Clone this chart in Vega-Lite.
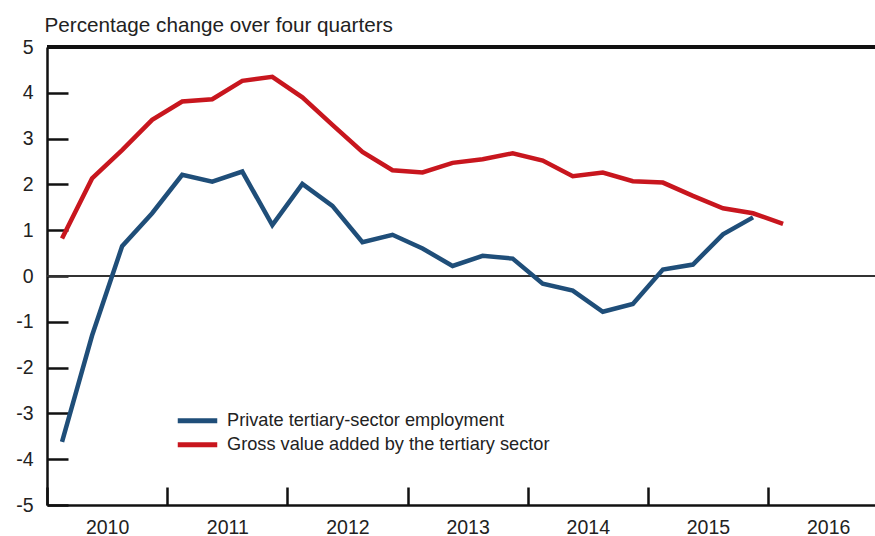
{
  "$schema": "https://vega.github.io/schema/vega-lite/v6.json",
  "autosize": {"type": "none"},
  "padding": {"left": 47, "top": 47, "right": 0, "bottom": 31},
  "width": 828,
  "height": 458,
  "background": "white",
  "config": {
    "view": {"stroke": null},
    "font": "Liberation Sans"
  },
  "data": {
    "values": [
      {"t": 2010.125, "series": "Private tertiary-sector employment", "value": -3.62},
      {"t": 2010.375, "series": "Private tertiary-sector employment", "value": -1.3},
      {"t": 2010.625, "series": "Private tertiary-sector employment", "value": 0.65},
      {"t": 2010.875, "series": "Private tertiary-sector employment", "value": 1.37},
      {"t": 2011.125, "series": "Private tertiary-sector employment", "value": 2.21},
      {"t": 2011.375, "series": "Private tertiary-sector employment", "value": 2.06},
      {"t": 2011.625, "series": "Private tertiary-sector employment", "value": 2.28},
      {"t": 2011.875, "series": "Private tertiary-sector employment", "value": 1.11},
      {"t": 2012.125, "series": "Private tertiary-sector employment", "value": 2.01},
      {"t": 2012.375, "series": "Private tertiary-sector employment", "value": 1.53},
      {"t": 2012.625, "series": "Private tertiary-sector employment", "value": 0.74},
      {"t": 2012.875, "series": "Private tertiary-sector employment", "value": 0.9},
      {"t": 2013.125, "series": "Private tertiary-sector employment", "value": 0.6},
      {"t": 2013.375, "series": "Private tertiary-sector employment", "value": 0.22},
      {"t": 2013.625, "series": "Private tertiary-sector employment", "value": 0.44},
      {"t": 2013.875, "series": "Private tertiary-sector employment", "value": 0.38},
      {"t": 2014.125, "series": "Private tertiary-sector employment", "value": -0.17},
      {"t": 2014.375, "series": "Private tertiary-sector employment", "value": -0.32},
      {"t": 2014.625, "series": "Private tertiary-sector employment", "value": -0.78},
      {"t": 2014.875, "series": "Private tertiary-sector employment", "value": -0.61},
      {"t": 2015.125, "series": "Private tertiary-sector employment", "value": 0.14},
      {"t": 2015.375, "series": "Private tertiary-sector employment", "value": 0.25},
      {"t": 2015.625, "series": "Private tertiary-sector employment", "value": 0.91},
      {"t": 2015.875, "series": "Private tertiary-sector employment", "value": 1.28},
      {"t": 2010.125, "series": "Gross value added by the tertiary sector", "value": 0.82},
      {"t": 2010.375, "series": "Gross value added by the tertiary sector", "value": 2.13},
      {"t": 2010.625, "series": "Gross value added by the tertiary sector", "value": 2.75},
      {"t": 2010.875, "series": "Gross value added by the tertiary sector", "value": 3.41},
      {"t": 2011.125, "series": "Gross value added by the tertiary sector", "value": 3.81},
      {"t": 2011.375, "series": "Gross value added by the tertiary sector", "value": 3.86},
      {"t": 2011.625, "series": "Gross value added by the tertiary sector", "value": 4.26},
      {"t": 2011.875, "series": "Gross value added by the tertiary sector", "value": 4.35},
      {"t": 2012.125, "series": "Gross value added by the tertiary sector", "value": 3.9},
      {"t": 2012.375, "series": "Gross value added by the tertiary sector", "value": 3.3},
      {"t": 2012.625, "series": "Gross value added by the tertiary sector", "value": 2.71},
      {"t": 2012.875, "series": "Gross value added by the tertiary sector", "value": 2.31},
      {"t": 2013.125, "series": "Gross value added by the tertiary sector", "value": 2.26},
      {"t": 2013.375, "series": "Gross value added by the tertiary sector", "value": 2.47},
      {"t": 2013.625, "series": "Gross value added by the tertiary sector", "value": 2.55},
      {"t": 2013.875, "series": "Gross value added by the tertiary sector", "value": 2.68},
      {"t": 2014.125, "series": "Gross value added by the tertiary sector", "value": 2.52},
      {"t": 2014.375, "series": "Gross value added by the tertiary sector", "value": 2.18},
      {"t": 2014.625, "series": "Gross value added by the tertiary sector", "value": 2.26},
      {"t": 2014.875, "series": "Gross value added by the tertiary sector", "value": 2.07},
      {"t": 2015.125, "series": "Gross value added by the tertiary sector", "value": 2.04},
      {"t": 2015.375, "series": "Gross value added by the tertiary sector", "value": 1.75},
      {"t": 2015.625, "series": "Gross value added by the tertiary sector", "value": 1.48},
      {"t": 2015.875, "series": "Gross value added by the tertiary sector", "value": 1.37},
      {"t": 2016.125, "series": "Gross value added by the tertiary sector", "value": 1.14}
    ]
  },
  "layer": [
    {
      "mark": {"type": "rule", "color": "#333333", "strokeWidth": 1},
      "encoding": {"y": {"datum": 0, "type": "quantitative"}}
    },
    {
      "mark": {"type": "rule", "color": "#111111", "strokeWidth": 2.5},
      "encoding": {"y": {"datum": 5, "type": "quantitative"}}
    },
    {
      "mark": {"type": "line", "strokeWidth": 4.5, "strokeJoin": "miter", "strokeCap": "butt"},
      "encoding": {
        "x": {
          "field": "t",
          "type": "quantitative",
          "scale": {"domain": [2010, 2016.89], "nice": false, "zero": false},
          "axis": {
            "title": null,
            "values": [2010, 2010.5, 2011, 2011.5, 2012, 2012.5, 2013, 2013.5, 2014, 2014.5, 2015, 2015.5, 2016, 2016.5],
            "labelExpr": "datum.value % 1 === 0 ? '' : '' + floor(datum.value)",
            "tickSize": -18,
            "tickWidth": 2.5,
            "tickColor": "#111111",
            "tickOpacity": {"condition": {"test": "datum.value % 1 === 0", "value": 1}, "value": 0},
            "domainColor": "#111111",
            "domainWidth": 2.5,
            "grid": false,
            "labelPadding": 31,
            "labelFontSize": 19.5,
            "labelColor": "#222222",
            "labelFont": "Liberation Sans",
            "labelFlush": false,
            "labelOverlap": false
          }
        },
        "y": {
          "field": "value",
          "type": "quantitative",
          "scale": {"domain": [-5, 5], "nice": false, "zero": false},
          "axis": {
            "title": "Percentage change over four quarters",
            "titleAngle": 0,
            "titleAlign": "left",
            "titleBaseline": "alphabetic",
            "titleX": -3,
            "titleY": -16,
            "titleFontSize": 20.7,
            "titleFontWeight": "normal",
            "titleColor": "#222222",
            "titleFont": "Liberation Sans",
            "values": [-5, -4, -3, -2, -1, 0, 1, 2, 3, 4, 5],
            "labelExpr": "'' + datum.value",
            "tickSize": -21,
            "tickWidth": 2.5,
            "tickColor": "#111111",
            "domainColor": "#111111",
            "domainWidth": 2.5,
            "grid": false,
            "labelPadding": 35,
            "labelFontSize": 19.5,
            "labelColor": "#222222",
            "labelFont": "Liberation Sans",
            "labelFlush": false,
            "labelOverlap": false
          }
        },
        "color": {
          "field": "series",
          "type": "nominal",
          "scale": {
            "domain": ["Private tertiary-sector employment", "Gross value added by the tertiary sector"],
            "range": ["#1f4e79", "#c8161e"]
          },
          "legend": {
            "title": null,
            "orient": "none",
            "legendX": 128,
            "legendY": 362,
            "symbolType": "stroke",
            "symbolSize": 1560,
            "symbolStrokeWidth": 5,
            "clipHeight": 23.5,
            "rowPadding": 0,
            "labelOffset": 7,
            "labelFontSize": 18.2,
            "labelColor": "#222222",
            "labelFont": "Liberation Sans",
            "labelLimit": 600
          }
        }
      }
    }
  ]
}
